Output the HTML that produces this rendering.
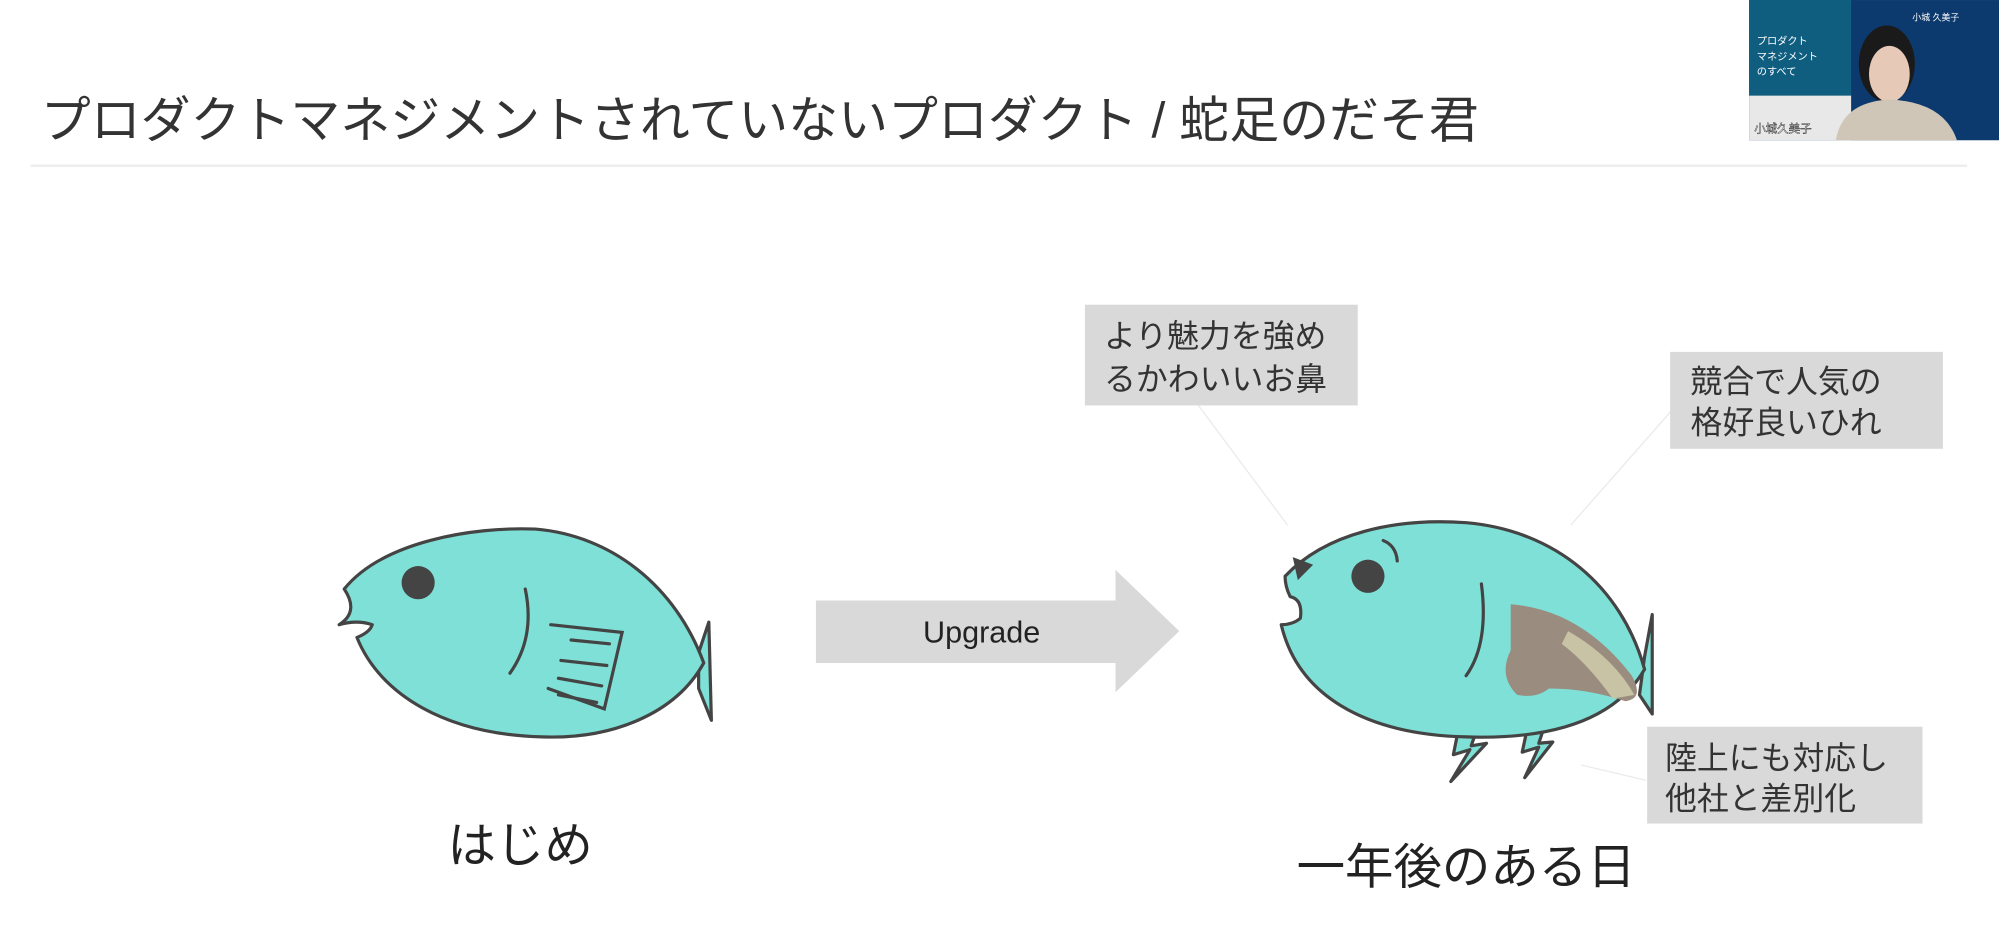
<!DOCTYPE html>
<html><head><meta charset="utf-8"><style>
html,body{margin:0;padding:0;background:#fff;width:1999px;height:940px;overflow:hidden}
svg{display:block}
text{font-family:"Liberation Sans","Noto Sans CJK JP",sans-serif}
</style></head><body>
<svg width="1999" height="940" viewBox="0 0 1568 737.3">
<rect width="1568" height="737.3" fill="#fff"/>
<text x="32" y="108" font-size="39" fill="#333" textLength="1128" lengthAdjust="spacingAndGlyphs">プロダクトマネジメントされていないプロダクト / 蛇足のだそ君</text>
<rect x="24" y="129" width="1519" height="2" fill="#eee"/>
<!-- webcam -->
<rect x="1372" y="0" width="196" height="110" fill="#0d3a6e"/>
<rect x="1372" y="0" width="80" height="75" fill="#0f5e80"/>
<rect x="1372" y="75" width="80" height="35" fill="#e8e8e8"/>
<ellipse cx="1480" cy="50" rx="22" ry="30" fill="#1a1a1a"/>
<ellipse cx="1482" cy="58" rx="16" ry="22" fill="#e6c9b6"/>
<path d="M1440 110 Q1445 80 1482 78 Q1525 80 1535 110Z" fill="#cfc6b8"/>
<text x="1378" y="35" font-size="8" fill="#fff">プロダクト</text>
<text x="1378" y="47" font-size="8" fill="#fff">マネジメント</text>
<text x="1378" y="59" font-size="8" fill="#fff">のすべて</text>
<text x="1376" y="104" font-size="9" fill="#fff" stroke="#000" stroke-width="0.3">小城久美子</text>
<text x="1500" y="16" font-size="7" fill="#fff">小城 久美子</text>

<!-- left fish -->
<g stroke="#444" stroke-width="2.5" fill="#7ee0d6" stroke-linejoin="round" stroke-linecap="round">
<path d="M548 512 L556 488 L558 565 L548 540 Z"/>
<path d="M270 462 C300 425 370 413 420 415 C480 420 530 460 552 520 C530 560 480 580 425 578 C350 576 298 545 280 500 Q290 496 292 490 Q280 486 266 490 Q282 480 270 462 Z"/>
</g>
<circle cx="328" cy="457" r="13" fill="#444"/>
<g stroke="#444" stroke-width="2.5" fill="none" stroke-linecap="round">
<path d="M412 462 Q420 500 400 528"/>
<path d="M432 490 L488 496 L474 556 L430 540"/>
<path d="M448 502 L478 505 M440 518 L476 522 M438 532 L472 538 M438 545 L468 551"/>
</g>
<text x="408" y="676" font-size="38" fill="#222" text-anchor="middle">はじめ</text>

<!-- arrow -->
<path d="M640 471 L875 471 L875 447 L925 495 L875 543 L875 520 L640 520 Z" fill="#d9d9d9"/>
<text x="770" y="504" font-size="24" fill="#222" text-anchor="middle">Upgrade</text>

<!-- connectors -->
<g stroke="#eaeaea" stroke-width="1">
<line x1="940" y1="318" x2="1010" y2="412"/>
<line x1="1313" y1="320" x2="1232" y2="412"/>
<line x1="1291" y1="612" x2="1240" y2="600"/>
</g>

<!-- right fish -->
<g stroke="#444" stroke-width="2.5" fill="#7ee0d6" stroke-linejoin="round" stroke-linecap="round">
<path d="M1290 515 L1296 482 L1296 560 L1286 545 Z"/>
<path d="M1146 562 L1140 592 L1153 588 L1138 613 L1166 583 L1154 585 L1162 562 Z"/>
<path d="M1200 562 L1194 590 L1207 586 L1196 610 L1218 582 L1207 583 L1214 562 Z"/>
<path d="M1008 452 C1040 418 1095 406 1150 410 C1220 416 1272 460 1290 525 C1265 568 1210 580 1150 578 C1070 576 1018 545 1005 490 Q1014 490 1020 485 Q1022 470 1012 468 Q1008 460 1008 452 Z"/>
</g>
<path d="M1014 437 L1030 443 L1018 455 Z" fill="#444"/>
<circle cx="1073" cy="452" r="13" fill="#444"/>
<g stroke="#444" stroke-width="2.5" fill="none" stroke-linecap="round">
<path d="M1085 424 Q1095 428 1096 440"/>
<path d="M1162 458 Q1168 505 1150 530"/>
</g>
<path d="M1185 474 Q1240 478 1280 530 Q1290 548 1275 550 Q1245 540 1215 540 Q1205 548 1190 545 Q1175 530 1185 510 Z" fill="#9a8c7e"/>
<path d="M1230 495 Q1265 515 1282 545 L1265 548 Q1245 520 1225 505 Z" fill="#c8c3a4"/>
<text x="1150" y="693" font-size="38" fill="#222" text-anchor="middle">一年後のある日</text>

<!-- boxes -->
<rect x="851" y="239" width="214" height="79" fill="#d9d9d9"/>
<text x="866" y="272" font-size="25" fill="#333">より魅力を強め</text>
<text x="866" y="306" font-size="25" fill="#333">るかわいいお鼻</text>
<rect x="1310" y="276" width="214" height="76" fill="#d9d9d9"/>
<text x="1326" y="308" font-size="25" fill="#333">競合で人気の</text>
<text x="1326" y="340" font-size="25" fill="#333">格好良いひれ</text>
<rect x="1292" y="570" width="216" height="76" fill="#d9d9d9"/>
<text x="1306" y="603" font-size="25" fill="#333">陸上にも対応し</text>
<text x="1306" y="635" font-size="25" fill="#333">他社と差別化</text>
</svg>
</body></html>
